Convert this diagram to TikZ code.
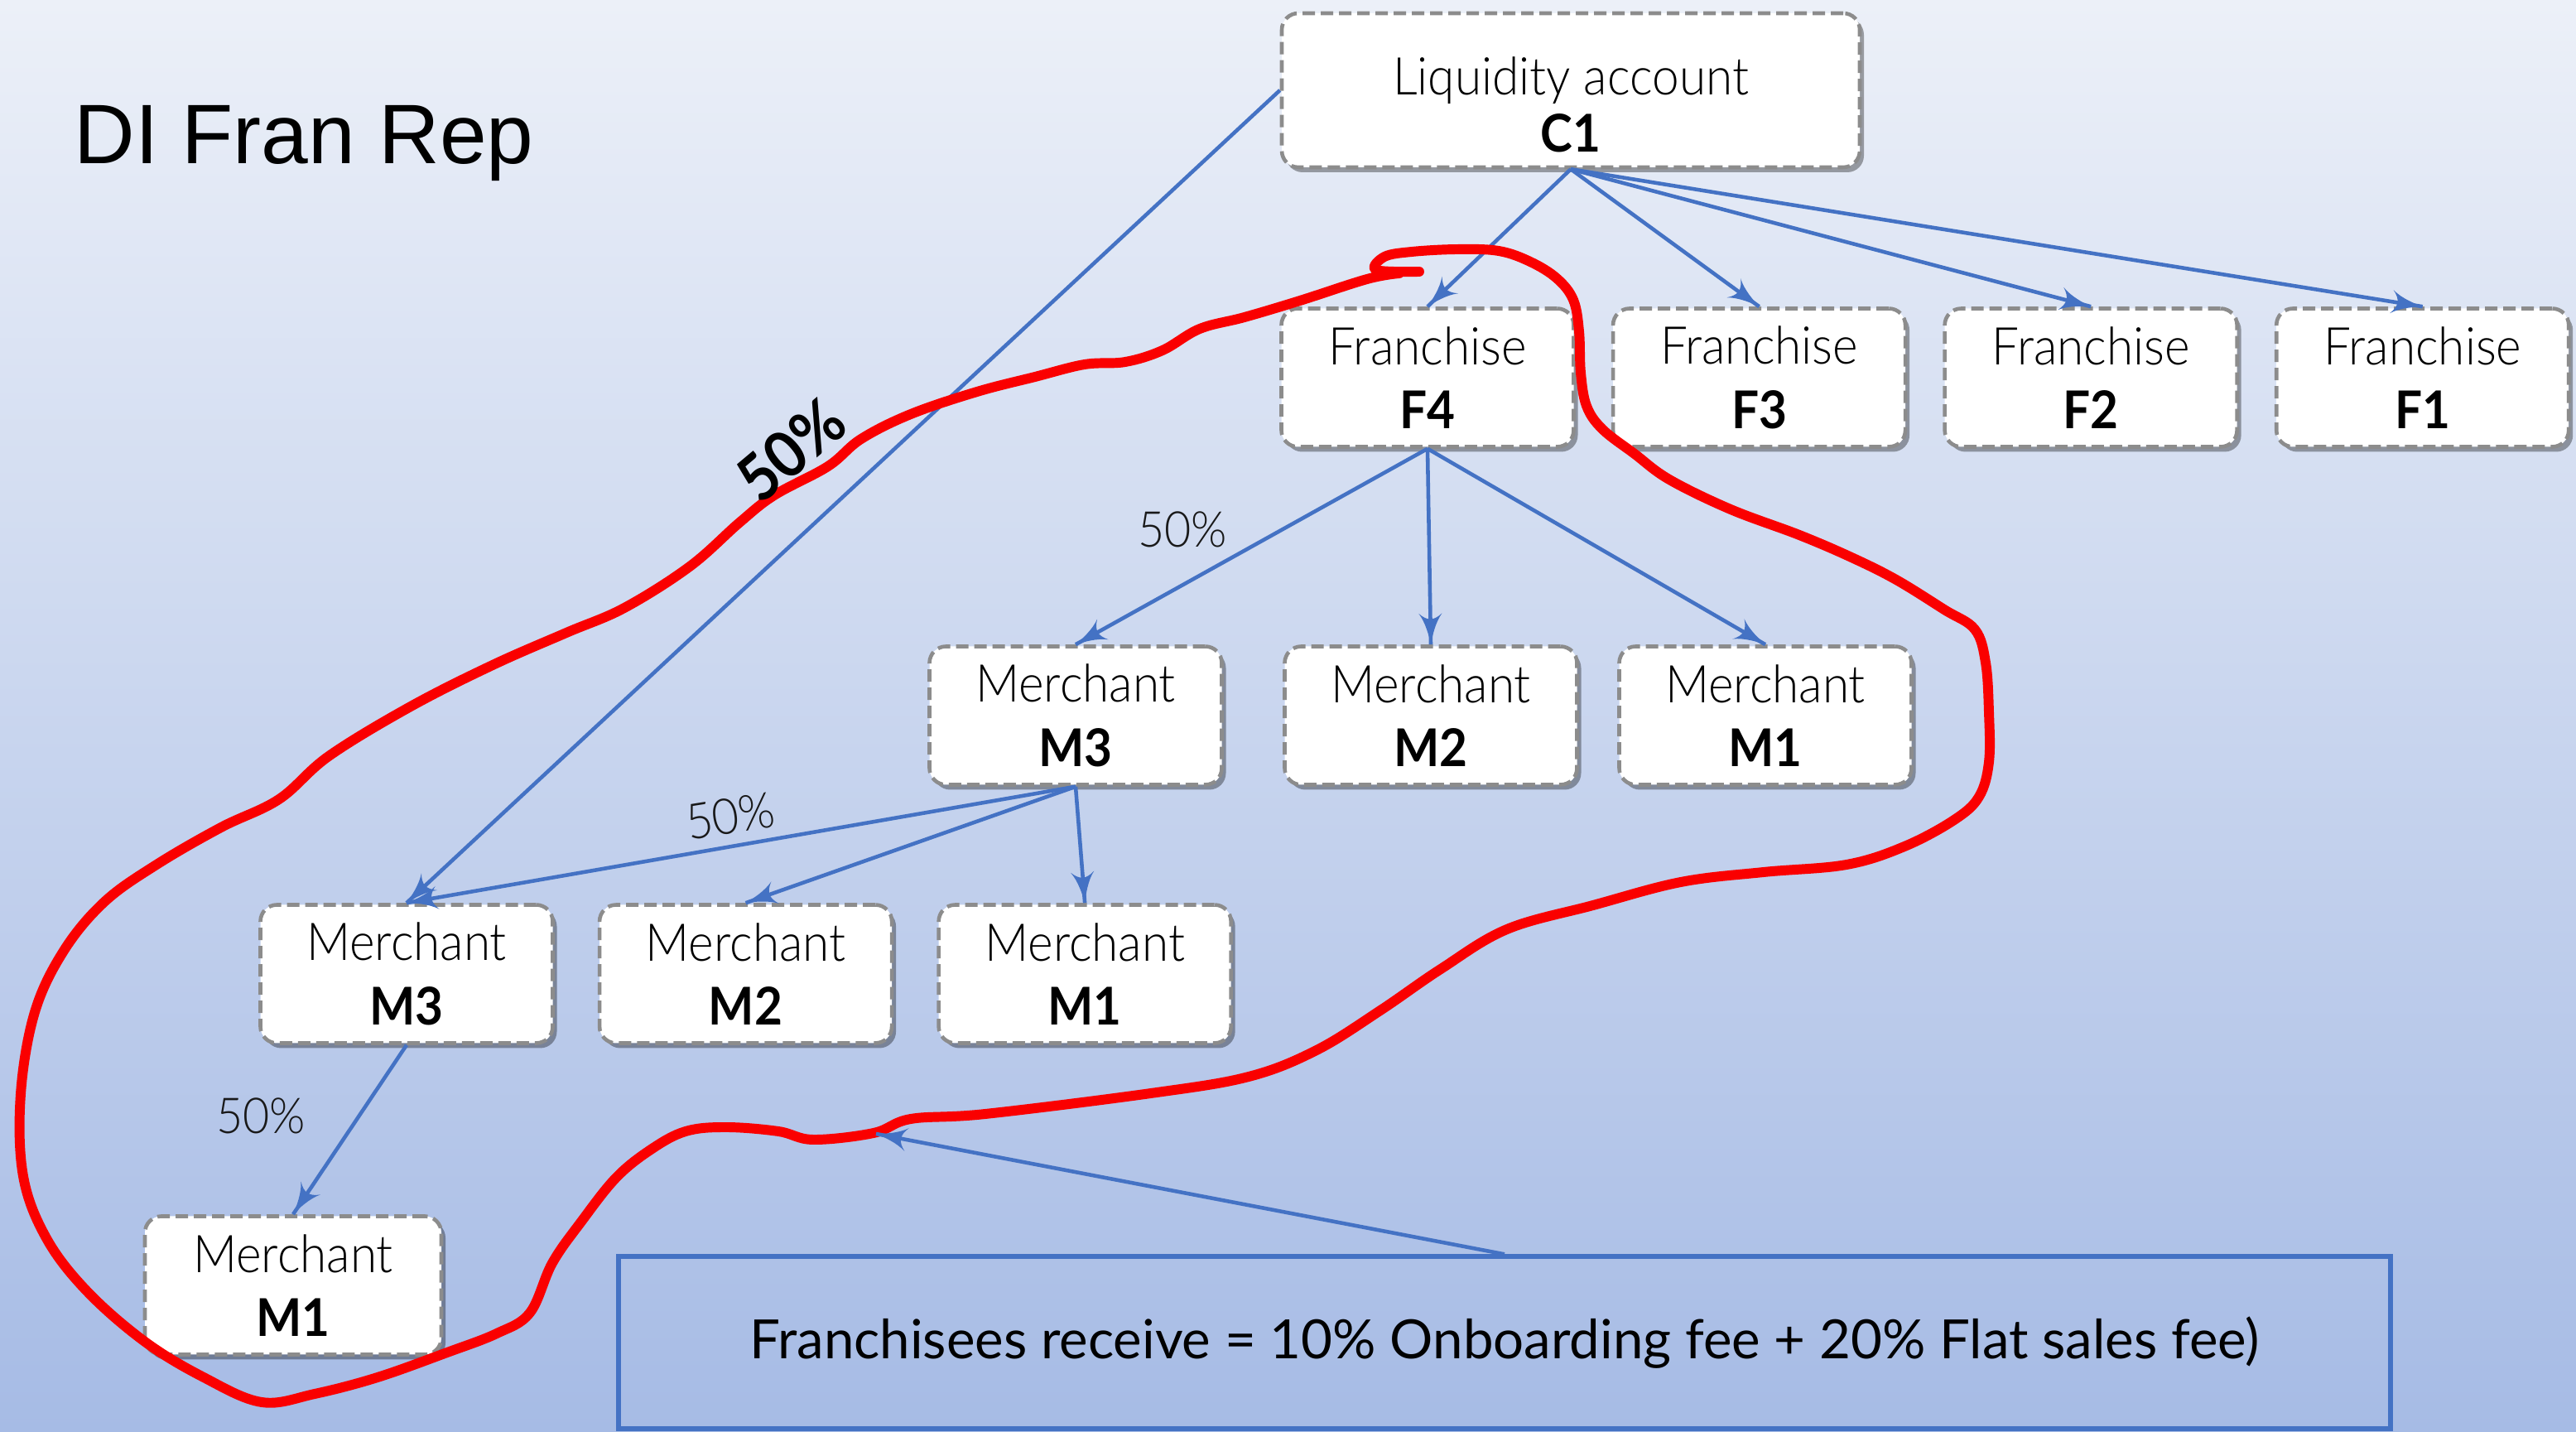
\documentclass[tikz,border=0pt]{standalone}
\usepackage{fontspec}
\IfFontExistsTF{Lato Light}
    {\IfFontExistsTF{Lato Bold}
        {\setmainfont{Lato Light}[FakeStretch=0.93, BoldFont={Lato Bold}]}
        {\setmainfont{Lato Light}[FakeStretch=0.93, BoldFont={Lato}]}}
    {\setmainfont{Lato}[FakeStretch=0.93]}
\newfontfamily\titlefont{Liberation Sans}
\newfontfamily\notefont{Lato}
\usetikzlibrary{arrows}
\usetikzlibrary{decorations.markings}
\usetikzlibrary{positioning}
\usetikzlibrary{shadows}
\tikzset{flow/.style = {lineblue, line width=1.3pt,
                        decoration={markings,
                                    mark=at position 1 with {\arrow[scale=1.6]{latex'}}},
                        postaction={decorate}}}
\tikzset{card/.style = {draw=boxgray, fill=white, dash pattern=on 0.15cm off 0.07cm,
                        line width=1.3pt, rounded corners=0.2cm, align=center,
                        minimum width=3.53cm, minimum height=1.67cm, inner sep=2pt,
                        font=\fontsize{17.9}{22}\selectfont,
                        drop shadow={shadow xshift=0.05cm, shadow yshift=-0.06cm,
                                     opacity=0.35, fill=black}}}
\tikzset{pct/.style = {text=black!90, font=\fontsize{17}{20}\selectfont}}
\definecolor{lineblue}{RGB}{68, 114, 196}
\definecolor{boxgray}{RGB}{140, 140, 140}
\definecolor{bgtop}{RGB}{236, 240, 248}
\definecolor{bgbottom}{RGB}{166, 187, 229}
\definecolor{penred}{RGB}{250, 0, 0}

\begin{document}
\begin{tikzpicture}
    \useasboundingbox (0, 0) rectangle (31.11, 17.29);
    \shade [top color=bgtop, bottom color=bgbottom] (0, 0) rectangle (31.11, 17.29);

    \node [anchor=base west, font=\titlefont\fontsize{29}{34}\selectfont] (title) at (0.77, 15.31) {DI Fran Rep};

    % account and franchises
    \node [card, minimum width=6.98cm, minimum height=1.86cm] (c1) at (18.97, 16.20)
          {\rule{0pt}{0.8cm}Liquidity account\\[-0.08cm]\textbf{C1}};
    \node [card] (f4) at (17.24, 12.73) {Franchise\\\textbf{F4}};
    \node [card, right=0.43cm of f4] (f3) {Franchise\\\textbf{F3}};
    \node [card, right=0.43cm of f3] (f2) {Franchise\\\textbf{F2}};
    \node [card, right=0.43cm of f2] (f1) {Franchise\\\textbf{F1}};

    % merchants
    \node [card] (m3) at (12.99, 8.65) {Merchant\\\textbf{M3}};
    \node [card] (m2) at (17.28, 8.65) {Merchant\\\textbf{M2}};
    \node [card] (m1) at (21.32, 8.65) {Merchant\\\textbf{M1}};
    \node [card] (m3b) at (4.91, 5.53) {Merchant\\\textbf{M3}};
    \node [card, right=0.52cm of m3b] (m2b) {Merchant\\\textbf{M2}};
    \node [card, right=0.52cm of m2b] (m1b) {Merchant\\\textbf{M1}};
    \node [card, minimum width=3.58cm] (m1c) at (3.54, 1.77) {Merchant\\\textbf{M1}};

    \node [draw=lineblue, line width=1.5pt, minimum width=21.40cm, minimum height=2.08cm,
           font=\notefont\fontsize{18.6}{22}\selectfont] (note) at (18.17, 1.08)
          {Franchisees receive = 10\% Onboarding fee + 20\% Flat sales fee)};

    \foreach \f in {f4, f3, f2, f1}
        \draw [flow] (c1.south) -- (\f.north);
    \draw [flow] (c1.west) -- (m3b.north);
    \foreach \m in {m3, m2, m1}
        \draw [flow] (f4.south) -- (\m.north);
    \foreach \m in {m3b, m2b, m1b}
        \draw [flow] (m3.south) -- (\m.north);
    \draw [flow] (m3b.south) -- (m1c.north);

    % hand drawn loop
    \draw [penred, line width=3.4pt, line cap=round, line join=round]
        plot [smooth, tension=0.6] coordinates {
        (17.14, 14.01) (16.62, 14.03) (16.72, 14.19) (17.05, 14.25) (17.60, 14.28)
        (18.10, 14.26) (18.48, 14.13) (18.80, 13.93) (19.00, 13.67) (19.07, 13.29)
        (19.09, 12.79) (19.16, 12.39) (19.35, 12.11) (19.74, 11.81) (20.16, 11.50)
        (20.90, 11.14) (21.73, 10.83) (22.36, 10.56) (22.90, 10.29) (23.48, 9.93)
        (23.85, 9.69) (23.98, 9.29) (24.02, 8.69) (24.02, 8.09) (23.90, 7.67)
        (23.60, 7.39) (23.00, 7.07) (22.30, 6.85) (21.30, 6.76) (20.30, 6.64)
        (19.24, 6.36) (18.20, 6.07) (17.40, 5.59) (16.67, 5.09) (15.90, 4.61)
        (15.08, 4.29) (13.90, 4.09) (11.90, 3.84) (11.00, 3.78) (10.55, 3.61)
        (9.82, 3.53) (9.40, 3.63) (8.77, 3.68) (8.28, 3.63) (7.86, 3.41)
        (7.44, 3.07) (7.02, 2.54) (6.67, 2.04) (6.40, 1.44) (6.00, 1.19)
        (5.40, 0.96) (4.56, 0.66) (3.80, 0.46) (3.16, 0.36) (2.46, 0.66)
        (1.75, 1.09) (1.05, 1.70) (0.56, 2.34) (0.28, 3.09) (0.25, 4.08)
        (0.42, 5.07) (0.77, 5.81) (1.26, 6.40) (1.89, 6.85) (2.67, 7.30)
        (3.37, 7.64) (3.97, 8.16) (4.96, 8.76) (5.95, 9.26) (6.84, 9.65)
        (7.54, 9.95) (8.33, 10.45) (8.93, 10.98) (9.35, 11.31) (10.00, 11.66)
        (10.40, 11.99) (11.00, 12.29) (11.80, 12.56) (12.50, 12.74) (13.10, 12.89)
        (13.59, 12.92) (14.04, 13.06) (14.49, 13.32) (15.03, 13.46) (15.70, 13.66)
        (16.51, 13.92) (16.90, 13.99)};
    \coordinate (hit) at (10.58, 3.60);
    \draw [flow] (note.north) -- (hit);

    \node [pct] (p1) at (14.28, 10.90) {50\%};
    \node [pct, rotate=9] (p2) at (8.82, 7.44) {50\%};
    \node [pct] (p3) at (3.15, 3.82) {50\%};
    \node [rotate=40, font=\fontsize{22}{26}\selectfont\bfseries] (p4) at (9.55, 11.86) {50\%};
\end{tikzpicture}
\end{document}
